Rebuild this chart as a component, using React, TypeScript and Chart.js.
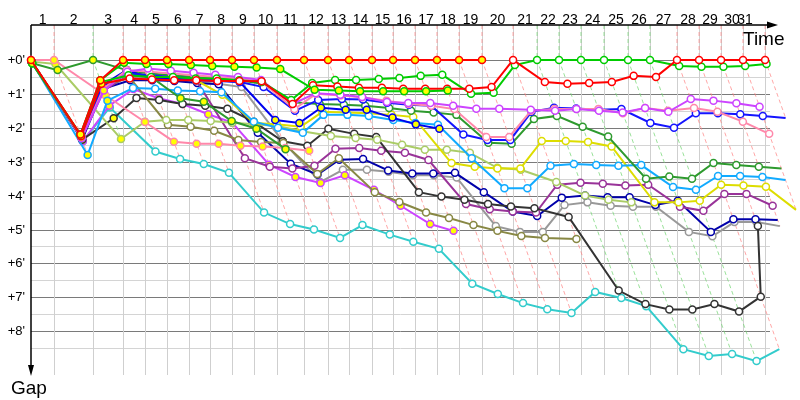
import React, { useEffect, useRef } from "react";
import { Chart, registerables } from "chart.js";
Chart.register(...registerables);

// Leader's elapsed time (minutes) at the end of each lap, lap 0 = start
const lapTimes = [0, 1.92, 5.17, 7.67, 9.5, 11.33, 13.17, 14.92, 16.75, 18.58, 20.5, 22.75, 24.75, 26.5, 28.42, 30.17, 32.0, 33.83, 35.67, 37.58, 40.17, 42.17, 44.0, 45.83, 47.75, 49.75, 51.58, 53.83, 55.67, 57.5, 59.33, 61.17];
const lapLabels = ["1","2","3","4","5","6","7","8","9","10","11","12","13","14","15","16","17","18","19","20","21","22","23","24","25","26","27","28","29","30","31"];
const greenLedLaps = [2, 21, 22, 23, 24, 25, 26];
const gapTicks = [0, 1, 2, 3, 4, 5, 6, 7, 8];

// Gap to leader (minutes) per lap, index = lap number
const redA = [0, 2.2, 0.6, 0, 0, 0, 0, 0, 0, 0, 0, 0, 0, 0, 0, 0, 0, 0, 0, 0];
const redB = [0.05, 2.25, 0.7, 0.55, 0.58, 0.6, 0.6, 0.62, 0.62, 0.63, 1.3, 0.75, 0.78, 0.82, 0.82, 0.85, 0.85, 0.85, 0.85, 0.8, 0, 0.65, 0.7, 0.68, 0.65, 0.47, 0.5, 0, 0, 0, 0, 0];
const greenA = [0.1, 2.2, 0.6, 0.08, 0.12, 0.12, 0.15, 0.18, 0.2, 0.22, 0.27, 0.88, 0.9, 0.92, 0.92, 0.92, 0.92, 0.9];
const greenB = [0.05, 2.2, 0.65, 0.45, 0.5, 0.5, 0.55, 0.55, 0.6, 0.65, 1.18, 0.68, 0.59, 0.59, 0.56, 0.53, 0.47, 0.44, 1.0, 0.97, 0.15, 0, 0, 0, 0, 0, 0, 0.18, 0.2, 0.2, 0.18, 0.12];
const darkGreen = [0.1, 0.3, 0, 0.3, 0.5, 1.13, 1.23, 1.8, 2.03, 2.63];
const greenC = [0.1, 2.3, 0.8, 0.3, 0.4, 0.45, 0.5, 0.55, 0.6, 0.7, 1.25, 1.3, 1.32, 1.35, 1.42, 1.5, 1.55, 1.62, 2.44, 2.47, 1.74, 1.65, 1.97, 2.26, 3.5, 3.44, 3.5, 3.04, 3.1, 3.15, 3.2];
const violet = [0.05, 2.3, 0.9, 0.35, 0.25, 0.32, 0.38, 0.44, 0.5, 0.59, 1.3, 0.98, 1.03, 1.09, 1.24, 1.27, 1.27, 1.35, 1.44, 1.44, 1.47, 1.5, 1.45, 1.5, 1.55, 1.42, 1.53, 1.15, 1.2, 1.28, 1.38];
const pinkB = [0.05, 2.3, 0.85, 0.3, 0.35, 0.4, 0.45, 0.5, 0.55, 0.65, 1.45, 1.0, 1.05, 1.1, 1.2, 1.3, 1.35, 1.45, 2.27, 2.27, 1.5, 1.45, 1.45, 1.45, 1.57, 1.42, 1.5, 1.42, 1.53, 1.82, 2.18];
const pinkA = [0, 0, 1.05, 1.83, 2.41, 2.47, 2.47, 2.53, 2.55, 2.6, 2.68];
const blue = [0.05, 2.3, 0.8, 0.4, 0.45, 0.5, 0.55, 0.6, 0.65, 0.8, 1.5, 1.18, 1.15, 1.17, 1.26, 1.32, 1.35, 2.2, 2.36, 2.36, 1.53, 1.41, 1.43, 1.47, 1.45, 1.86, 2.0, 1.57, 1.57, 1.6, 1.65, 1.71];
const blueY = [0.05, 2.3, 0.75, 0.3, 0.55, 0.55, 0.6, 0.62, 0.65, 1.77, 1.86, 1.41, 1.47, 1.47, 1.7, 1.9, 2.03];
const navy = [0.05, 2.35, 0.85, 0.6, 0.6, 0.62, 0.68, 0.72, 2.15, 3.06, 3.38, 2.94, 2.92, 3.26, 3.35, 3.35, 3.33, 3.9, 4.47, 4.6, 4.06, 4.0, 4.05, 4.05, 4.28, 4.15, 5.07, 4.7, 4.7, 4.72];
const lightBlue = [0.05, 2.8, 1.2, 0.83, 0.85, 0.9, 0.92, 0.95, 1.82, 2.0, 2.15, 1.62, 1.62, 1.65, 1.77, 1.86, 1.91, 2.9, 3.78, 3.78, 3.12, 3.07, 3.1, 3.12, 3.1, 3.75, 3.83, 3.42, 3.42, 3.45, 3.54];
const yellow = [0.05, 2.3, 0.8, 0.4, 0.45, 0.5, 0.6, 1.03, 1.86, 1.9, 1.97, 1.53, 1.55, 1.57, 1.62, 1.68, 3.04, 3.15, 3.2, 3.2, 2.39, 2.39, 2.42, 2.55, 4.2, 4.2, 4.15, 3.68, 3.7, 3.74, 4.42];
const olive = [0.05, 2.3, 0.8, 0.5, 1.91, 1.97, 2.09, 2.36, 2.42, 2.45, 3.36, 2.9, 3.9, 4.19, 4.5, 4.66, 4.87, 5.04, 5.19, 5.25, 5.28];
const lightOlive = [0.05, 0.12, 2.33, 1.82, 1.77, 1.77, 1.8, 1.85, 1.9, 1.95, 2.1, 2.24, 2.3, 2.35, 2.5, 2.65, 2.65, 2.74, 3.18, 3.24, 3.6, 4.0, 4.12, 4.2];
const gray = [0.05, 2.3, 0.85, 0.5, 0.55, 0.6, 0.65, 0.7, 0.8, 2.4, 3.6, 3.24, 3.24, 3.3, 3.4, 3.4, 3.47, 4.9, 5.07, 5.07, 4.28, 4.2, 4.3, 4.33, 4.33, 5.07, 5.2, 4.78, 4.78, 4.9];
const black = [0.05, 2.35, 1.72, 1.12, 1.18, 1.3, 1.35, 1.44, 1.82, 2.4, 2.53, 2.03, 2.18, 2.27, 3.9, 4.03, 4.12, 4.25, 4.32, 4.37, 4.63, 6.8, 7.2, 7.36, 7.36, 7.2, 7.42, 6.98, 4.9];
const purple = [0.05, 2.3, 0.9, 0.45, 0.5, 0.55, 0.6, 2.9, 3.15, 3.2, 3.12, 2.62, 2.6, 2.68, 2.74, 2.95, 4.25, 4.4, 4.47, 4.5, 3.68, 3.62, 3.65, 3.7, 3.68, 4.33, 4.45, 3.95, 3.95, 4.3];
const cyan = [0.05, 2.4, 1.4, 2.7, 2.92, 3.07, 3.33, 4.5, 4.84, 5.0, 5.25, 4.87, 5.15, 5.36, 5.57, 6.6, 6.9, 7.17, 7.35, 7.46, 6.84, 7.02, 7.26, 8.53, 8.73, 8.67, 8.88, 8.53];
const violetY = [0.05, 2.4, 1.35, 0.86, 1.13, 1.3, 1.6, 1.85, 3.09, 3.45, 3.63, 3.4, 3.83, 4.3, 4.84, 5.04];

const series = [
  { gaps: redA, color: "#ff0000", yellow: true },
  { gaps: greenA, color: "#00cc00", yellow: true },
  { gaps: redB, color: "#ff0000", yellow: false },
  { gaps: greenB, color: "#00cc00", yellow: false },
  { gaps: violet, color: "#cc44ff", yellow: false },
  { gaps: pinkB, color: "#ff88aa", yellow: false },
  { gaps: blue, color: "#1414ff", yellow: false },
  { gaps: blueY, color: "#0000ee", yellow: true },
  { gaps: greenC, color: "#2e9a2e", yellow: false },
  { gaps: darkGreen, color: "#2e9a2e", yellow: true },
  { gaps: lightBlue, color: "#11aaff", yellow: false },
  { gaps: yellow, color: "#dddd00", yellow: false },
  { gaps: pinkA, color: "#ff88aa", yellow: true },
  { gaps: lightOlive, color: "#aacc66", yellow: false },
  { gaps: olive, color: "#888844", yellow: false },
  { gaps: black, color: "#333333", yellow: false },
  { gaps: purple, color: "#993399", yellow: false },
  { gaps: violetY, color: "#cc44ff", yellow: true },
  { gaps: navy, color: "#0000aa", yellow: false },
  { gaps: gray, color: "#999999", yellow: false },
  { gaps: cyan, color: "#33cccc", yellow: false },
];

const X_MAX = 61.58;
const Y_MIN = -1.03;
const Y_MAX = 9.29;

const overlay = {
  id: "overlay",
  beforeDatasetsDraw(chart: any) {
    const { ctx, chartArea, scales } = chart;
    const { left, right, top, bottom } = chartArea;
    const x = scales.x;
    const y = scales.y;
    ctx.save();
    // horizontal grid
    for (let g = 0.5; g <= 8.5; g += 1) {
      const py = Math.round(y.getPixelForValue(g)) + 0.5;
      ctx.strokeStyle = "#d4d4d4";
      ctx.lineWidth = 1;
      ctx.beginPath(); ctx.moveTo(left, py); ctx.lineTo(right, py); ctx.stroke();
    }
    gapTicks.forEach((g) => {
      const py = Math.round(y.getPixelForValue(g)) + 0.5;
      ctx.strokeStyle = "#7a7a7a";
      ctx.lineWidth = 1;
      ctx.beginPath(); ctx.moveTo(left, py); ctx.lineTo(right, py); ctx.stroke();
    });
    // vertical grid at each lap end
    lapTimes.slice(1).forEach((t) => {
      const px = Math.round(x.getPixelForValue(t)) + 0.5;
      ctx.strokeStyle = "#cfcfcf";
      ctx.lineWidth = 1;
      ctx.beginPath(); ctx.moveTo(px, top); ctx.lineTo(px, bottom); ctx.stroke();
    });
    // dashed lap lines
    ctx.setLineDash([4, 3]);
    lapTimes.forEach((t, lap) => {
      if (lap === 0) return;
      let gmax = 0;
      series.forEach((s) => {
        const g = s.gaps[lap];
        if (g !== undefined && g !== null && g > gmax) gmax = g;
      });
      const green = greenLedLaps.includes(lap);
      ctx.strokeStyle = green ? "rgba(120,215,120,0.75)" : "rgba(255,130,130,0.7)";
      ctx.lineWidth = 1;
      ctx.beginPath();
      ctx.moveTo(x.getPixelForValue(t), top);
      ctx.lineTo(x.getPixelForValue(t), y.getPixelForValue(0));
      ctx.lineTo(x.getPixelForValue(t + gmax), y.getPixelForValue(gmax));
      ctx.stroke();
    });
    ctx.setLineDash([]);
    // axes
    ctx.strokeStyle = "#000";
    ctx.fillStyle = "#000";
    ctx.lineWidth = 1.5;
    ctx.beginPath(); ctx.moveTo(left, top); ctx.lineTo(right + 2, top); ctx.stroke();
    ctx.beginPath(); ctx.moveTo(right - 3, top - 3.5); ctx.lineTo(right + 8, top); ctx.lineTo(right - 3, top + 3.5); ctx.closePath(); ctx.fill();
    ctx.beginPath(); ctx.moveTo(left, top); ctx.lineTo(left, bottom - 4); ctx.stroke();
    ctx.beginPath(); ctx.moveTo(left - 3, bottom - 10); ctx.lineTo(left, bottom + 1); ctx.lineTo(left + 3, bottom - 10); ctx.closePath(); ctx.fill();
    // labels
    ctx.font = "13px 'Liberation Sans', Arial, sans-serif";
    ctx.textAlign = "right";
    ctx.textBaseline = "middle";
    gapTicks.forEach((g) => ctx.fillText(`+${g}'`, left - 6, y.getPixelForValue(g) + 0.5));
    ctx.font = "14px 'Liberation Sans', Arial, sans-serif";
    ctx.textAlign = "center";
    ctx.textBaseline = "alphabetic";
    lapLabels.forEach((lbl, i) => {
      const mid = (x.getPixelForValue(lapTimes[i]) + x.getPixelForValue(lapTimes[i + 1])) / 2;
      ctx.fillText(lbl, Math.min(mid, 745), top - 1);
    });
    ctx.font = "19px 'Liberation Sans', Arial, sans-serif";
    ctx.textAlign = "left";
    ctx.fillText("Time", 743, 45);
    ctx.fillText("Gap", 11, 394);
    ctx.restore();
  },
};

export default function App() {
  const ref = useRef<HTMLCanvasElement>(null);
  useEffect(() => {
    if (!ref.current) return;
    const datasets = series.map((s) => {
      const pts = s.gaps.map((g, lap) => ({ x: lapTimes[lap] + g, y: g }));
      return {
        data: pts,
        borderColor: s.color,
        backgroundColor: s.color,
        borderWidth: 2,
        pointRadius: 3.5,
        pointBorderWidth: 1.5,
        pointBorderColor: s.color,
        pointBackgroundColor: pts.map((_, lap) => (s.yellow || lap <= 2 ? "#ffff00" : "#ffffff")),
        tension: 0,
        clip: false as any,
      };
    });
    const chart = new Chart(ref.current, {
      type: "line",
      data: { datasets },
      options: {
        animation: false,
        responsive: false,
        parsing: true,
        layout: { padding: { left: 31, top: 25, right: 30, bottom: 25 } },
        plugins: { legend: { display: false }, tooltip: { enabled: false } },
        scales: {
          x: { type: "linear", min: 0, max: X_MAX, display: false },
          y: { type: "linear", min: Y_MIN, max: Y_MAX, reverse: true, display: false },
        },
      },
      plugins: [overlay],
    });
    return () => chart.destroy();
  }, []);
  return (
    <div style={{ position: "fixed", left: 0, top: 0, width: 800, height: 400, background: "#fff" }}>
      <canvas ref={ref} width={800} height={400} style={{ width: 800, height: 400 }} />
    </div>
  );
}
